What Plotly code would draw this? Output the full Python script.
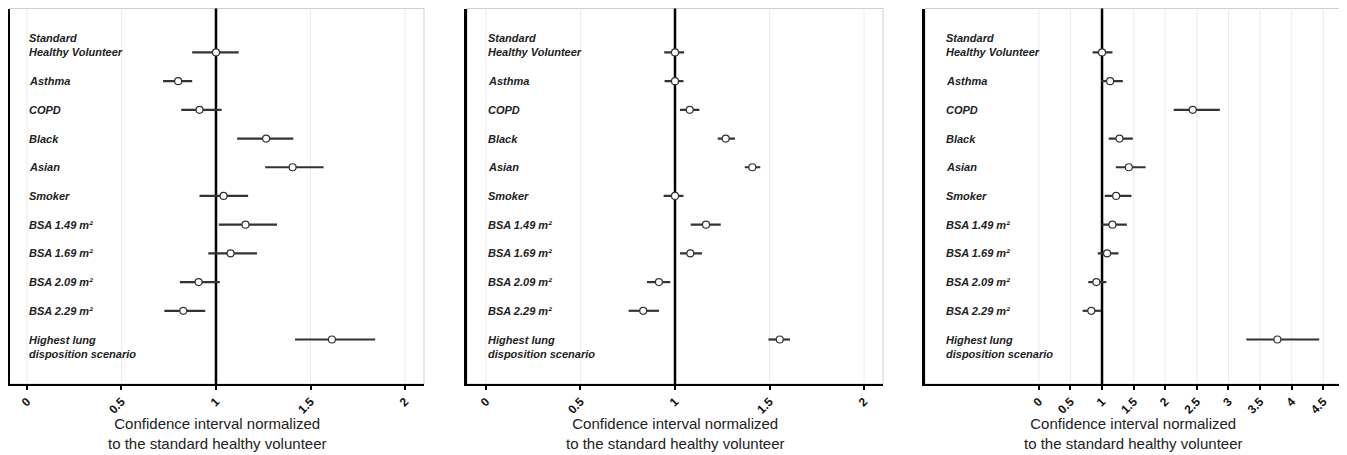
import plotly.graph_objects as go

categories = ["Standard<br>Healthy Volunteer", "Asthma", "COPD", "Black", "Asian", "Smoker",
              "BSA 1.49 m²", "BSA 1.69 m²", "BSA 2.09 m²", "BSA 2.29 m²",
              "Highest lung<br>disposition scenario"]

# Panel 1
p1_mid = [1.00, 0.80, 0.913, 1.265, 1.405, 1.04, 1.156, 1.077, 0.908, 0.827, 1.613]
p1_low = [0.874, 0.72, 0.816, 1.112, 1.26, 0.913, 1.015, 0.959, 0.809, 0.727, 1.418]
p1_high = [1.12, 0.874, 1.03, 1.409, 1.569, 1.17, 1.323, 1.217, 1.02, 0.943, 1.842]
# Panel 2
p2_mid = [1.00, 1.00, 1.078, 1.268, 1.409, 1.00, 1.164, 1.081, 0.915, 0.832, 1.554]
p2_low = [0.943, 0.945, 1.026, 1.226, 1.369, 0.94, 1.083, 1.026, 0.852, 0.755, 1.494]
p2_high = [1.048, 1.045, 1.129, 1.317, 1.451, 1.045, 1.242, 1.143, 0.975, 0.915, 1.608]
# Panel 3
p3_mid = [1.00, 1.128, 2.435, 1.276, 1.424, 1.223, 1.165, 1.08, 0.91, 0.831, 3.774]
p3_low = [0.852, 0.985, 2.133, 1.106, 1.218, 1.043, 0.995, 0.932, 0.783, 0.693, 3.282]
p3_high = [1.165, 1.329, 2.864, 1.488, 1.689, 1.466, 1.392, 1.26, 1.069, 0.985, 4.436]

ticks_12 = [0, 0.5, 1, 1.5, 2]
ticks_3 = [0, 0.5, 1, 1.5, 2, 2.5, 3, 3.5, 4, 4.5]
x_title = "Confidence interval normalized<br>to the standard healthy volunteer"

# page body has an 8px margin; size the figure so it fits the 1347x455 window
OFF = 8
W, H = 1347 - OFF, 455 - OFF
panels = [
    dict(mid=p1_mid, low=p1_low, high=p1_high, px=(9.5, 424), rng=[-0.092, 2.1], ticks=ticks_12),
    dict(mid=p2_mid, low=p2_low, high=p2_high, px=(467, 883), rng=[-0.1, 2.1], ticks=ticks_12),
    dict(mid=p3_mid, low=p3_low, high=p3_high, px=(925, 1341), rng=[-1.8, 4.78], ticks=ticks_3),
]
ytop, ybot = 8.5, 384
n = len(categories)
ypos = list(range(n))

fig = go.Figure()
annotations = []
shapes = []
FAM = "Liberation Sans, Arial, sans-serif"
lab_font = dict(family=FAM, size=11, color="#222")

for k, p in enumerate(panels):
    sfx = "" if k == 0 else str(k + 1)
    xa, ya = "x" + sfx, "y" + sfx
    fig.add_trace(go.Scatter(
        x=p["mid"], y=ypos, xaxis=xa, yaxis=ya, mode="markers",
        marker=dict(symbol="circle", size=7, color="white", line=dict(color="#333", width=1.2)),
        error_x=dict(type="data", symmetric=False,
                     array=[h - m for h, m in zip(p["high"], p["mid"])],
                     arrayminus=[m - l for m, l in zip(p["mid"], p["low"])],
                     color="#333", thickness=2.2, width=0),
        showlegend=False, hoverinfo="skip"))
    dom = [(p["px"][0] - OFF) / W, (p["px"][1] - OFF) / W]
    fig.update_layout(**{
        ("xaxis" + sfx): dict(domain=dom, range=p["rng"], tickvals=p["ticks"],
                               ticktext=[("%g" % t) for t in p["ticks"]],
                               tickangle=-45, showgrid=False,
                               zeroline=False, showline=True, linecolor="black", linewidth=2,
                               ticks="outside", ticklen=4, tickwidth=1.5, tickcolor="black",
                               anchor=ya,
                               tickfont=dict(family=FAM, size=12, color="#111", weight="bold")),
        ("yaxis" + sfx): dict(domain=[1 - (ybot - OFF) / H, 1 - (ytop - OFF) / H],
                               range=[n - 1 + 1.55, -1.53],
                               showticklabels=False, showgrid=False, zeroline=False,
                               showline=True, linecolor="black", linewidth=2.5, ticks="",
                               anchor=xa),
    })
    shapes.append(dict(type="rect", xref=xa + " domain", yref=ya + " domain", x0=0, x1=1, y0=0, y1=1,
                       line=dict(color="#cfcfcf", width=1), layer="below"))
    for t in p["ticks"]:
        if t != 1:
            shapes.append(dict(type="line", xref=xa, yref=ya + " domain", x0=t, x1=t, y0=0, y1=1,
                               line=dict(color="#ececec", width=1), layer="below"))
    shapes.append(dict(type="line", xref=xa, yref=ya + " domain", x0=1, x1=1, y0=0, y1=1,
                       line=dict(color="black", width=2.5), layer="below"))
    for i, c in enumerate(categories):
        shift = 0
        if c.startswith("Standard"):
            shift = 7.5
        elif c.startswith("Highest"):
            shift = -7.5
        annotations.append(dict(xref=xa + " domain", yref=ya, x=0, y=i,
                                xshift=19 if k else 17.5, yshift=shift,
                                xanchor="left", yanchor="middle", align="left", showarrow=False,
                                text="<b><i>" + c + "</i></b>", font=lab_font))
    annotations.append(dict(xref=xa + " domain", yref="paper", x=0.5, y=1 - (413 - OFF) / H,
                            xanchor="center", yanchor="top", showarrow=False, text=x_title,
                            font=dict(family=FAM, size=15, color="#222")))

fig.update_layout(width=W, height=H, margin=dict(l=0, r=0, t=0, b=0),
                  plot_bgcolor="white", paper_bgcolor="white",
                  annotations=annotations, shapes=shapes)
fig.write_html("out.html")
